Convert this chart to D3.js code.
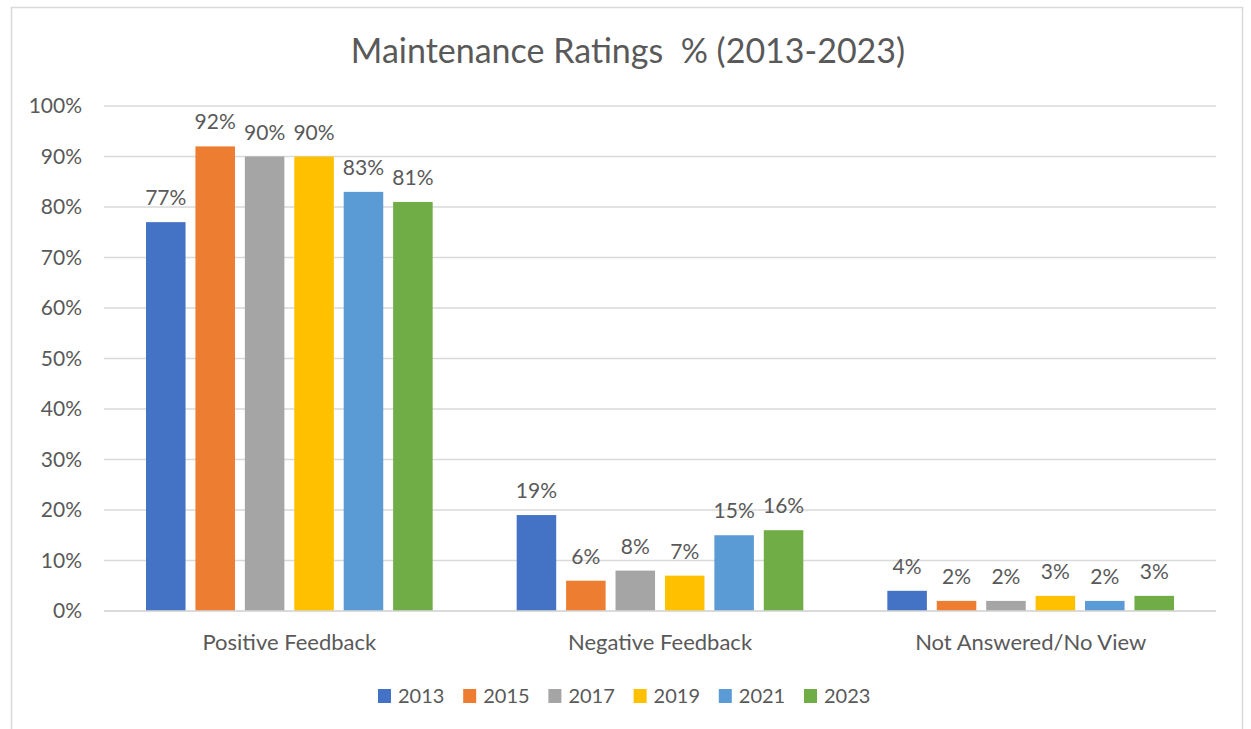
<!DOCTYPE html>
<html>
<head>
<meta charset="utf-8">
<script src="https://cdn.jsdelivr.net/npm/d3@7"></script>
<style>
  body { margin: 0; background: #fff; }
  svg text { font-family: Lato, "Noto Sans", sans-serif; fill: #595959; }
</style>
</head>
<body>
<div id="chart"></div>
<script>
// データ
const categories = ["Positive Feedback", "Negative Feedback", "Not Answered/No View"];
const years = ["2013", "2015", "2017", "2019", "2021", "2023"];
const values2013 = [77, 19, 4];
const values2015 = [92, 6, 2];
const values2017 = [90, 8, 2];
const values2019 = [90, 7, 3];
const values2021 = [83, 15, 2];
const values2023 = [81, 16, 3];
const yTicks = [0, 10, 20, 30, 40, 50, 60, 70, 80, 90, 100];
const colors = ["#4472C4", "#ED7D31", "#A5A5A5", "#FFC000", "#5B9BD5", "#70AD47"];

const seriesValues = [values2013, values2015, values2017, values2019, values2021, values2023];
const rows = categories.map((c, i) => ({
  category: c,
  bars: years.map((y, j) => ({ year: y, value: seriesValues[j][i], color: colors[j] }))
}));

const width = 1251, height = 729;
const svg = d3.select("#chart").append("svg")
  .attr("width", width)
  .attr("height", height);

// 枠
svg.append("rect")
  .attr("x", 11.5).attr("y", 7.5)
  .attr("width", 1231).attr("height", 740)
  .attr("fill", "#fff")
  .attr("stroke", "#d9d9d9")
  .attr("stroke-width", 1.5);

// タイトル
svg.append("text")
  .attr("x", 628).attr("y", 63)
  .attr("text-anchor", "middle")
  .style("font-size", "34px")
  .style("white-space", "pre")
  .text("Maintenance Ratings  % (2013-2023)");

const x0 = d3.scaleBand().domain(categories).range([104, 1216]);
const x1 = d3.scaleBand().domain(years).range([0, x0.bandwidth()])
  .paddingInner(0.2).paddingOuter(0.85);
const y = d3.scaleLinear().domain([0, 100]).range([611, 106]);

// グリッド線
svg.append("g")
  .selectAll("line")
  .data(yTicks)
  .join("line")
  .attr("x1", 104).attr("x2", 1216)
  .attr("y1", (d) => y(d)).attr("y2", (d) => y(d))
  .attr("stroke", "#d9d9d9")
  .attr("stroke-width", 1.3);

// y軸
const yAxis = svg.append("g")
  .attr("transform", "translate(82,0)")
  .call(d3.axisLeft(y).tickValues(yTicks).tickFormat((d) => d + "%").tickSize(0).tickPadding(0));
yAxis.select(".domain").remove();
yAxis.selectAll("text").style("font-size", "21px").attr("fill", "#595959");

// 棒
const groups = svg.append("g")
  .selectAll("g")
  .data(rows)
  .join("g")
  .attr("transform", (d) => `translate(${x0(d.category)},0)`);

groups.selectAll("rect")
  .data((d) => d.bars)
  .join("rect")
  .attr("x", (d) => x1(d.year))
  .attr("y", (d) => y(d.value))
  .attr("width", x1.bandwidth())
  .attr("height", (d) => y(0) - y(d.value))
  .attr("fill", (d) => d.color);

groups.selectAll("text.label")
  .data((d) => d.bars)
  .join("text")
  .attr("class", "label")
  .attr("x", (d) => x1(d.year) + x1.bandwidth() / 2)
  .attr("y", (d) => y(d.value) - 17)
  .attr("text-anchor", "middle")
  .style("font-size", "21px")
  .text((d) => d.value + "%");

// x軸の軸線
svg.append("line")
  .attr("x1", 104).attr("x2", 1216)
  .attr("y1", y(0)).attr("y2", y(0))
  .attr("stroke", "#d9d9d9")
  .attr("stroke-width", 1.3);

// カテゴリ名
svg.append("g")
  .selectAll("text")
  .data(categories)
  .join("text")
  .attr("x", (d) => x0(d) + x0.bandwidth() / 2)
  .attr("y", 650)
  .attr("text-anchor", "middle")
  .style("font-size", "22px")
  .text((d) => d);

// 凡例
const legend = svg.append("g")
  .selectAll("g")
  .data(years)
  .join("g")
  .attr("transform", (d, i) => `translate(${378 + i * 85.2},689)`);

legend.append("rect")
  .attr("width", 13).attr("height", 14)
  .attr("fill", (d, i) => colors[i]);

legend.append("text")
  .attr("x", 20).attr("y", 14)
  .style("font-size", "20px")
  .text((d) => d);
</script>
</body>
</html>
